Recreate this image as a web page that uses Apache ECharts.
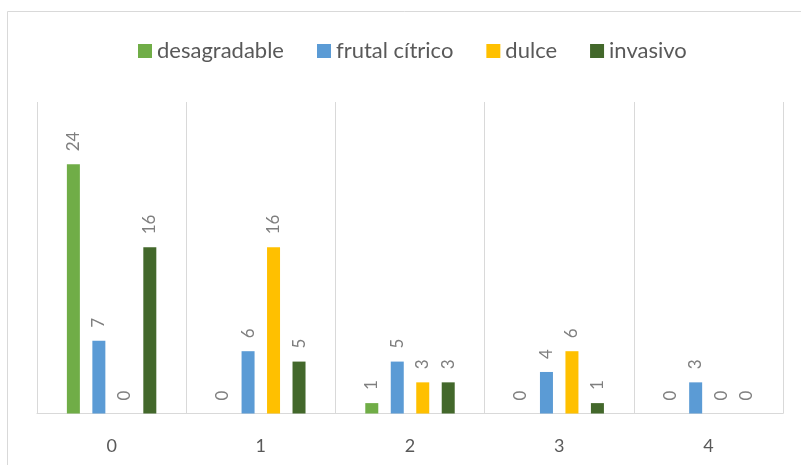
<!DOCTYPE html>
<html><head><meta charset="utf-8">
<script src="https://cdn.jsdelivr.net/npm/echarts@6/dist/echarts.min.js"></script>
<style>html,body{margin:0;padding:0;background:#fff}#c{width:801px;height:465px}</style>
</head><body><div id="c"></div>
<script>
const categories = ['0','1','2','3','4'];
const seriesNames = ['desagradable','frutal cítrico','dulce','invasivo'];
const desagradable = [24,0,1,0,0];
const frutalCitrico = [7,6,5,4,3];
const dulce = [0,16,3,6,0];
const invasivo = [16,5,3,1,0];
const colors = ['#70AD47','#5B9BD5','#FFC000','#43682B'];
const values = [desagradable, frutalCitrico, dulce, invasivo];
const FONT = 'Lato';
const chart = echarts.init(document.getElementById('c'), null, {renderer:'canvas'});
chart.setOption({
  animation:false,
  backgroundColor:'#fff',
  graphic:[{type:'rect',shape:{x:7.5,y:11.5,width:900,height:600},style:{fill:'none',stroke:'#D9D9D9',lineWidth:1},silent:true}],
  legend:{top:35,left:133,itemWidth:14,itemHeight:14,itemGap:33,icon:'rect',
    textStyle:{fontFamily:FONT,fontSize:22,color:'#595959',padding:[0,0,0,0]},data:seriesNames},
  grid:{left:37,right:18,top:102,bottom:51.5,containLabel:false},
  xAxis:{type:'category',data:categories,
    axisLine:{lineStyle:{color:'#D9D9D9',width:1}},axisTick:{show:false},
    axisLabel:{fontFamily:FONT,fontSize:18,color:'#595959',margin:24},
    splitLine:{show:true,lineStyle:{color:'#D9D9D9',width:1}}},
  yAxis:{type:'value',min:0,max:30,interval:10,show:false,splitLine:{show:false}},
  series: seriesNames.map((n,i)=>({
    name:n,type:'bar',data:values[i],barWidth:13,barGap:'96%',barCategoryGap:'40%',
    itemStyle:{color:colors[i]},
    label:{show:true,position:'top',rotate:90,align:'left',verticalAlign:'middle',distance:13,
      fontFamily:FONT,fontSize:17,color:'#7F7F7F'}
  }))
});
</script></body></html>
